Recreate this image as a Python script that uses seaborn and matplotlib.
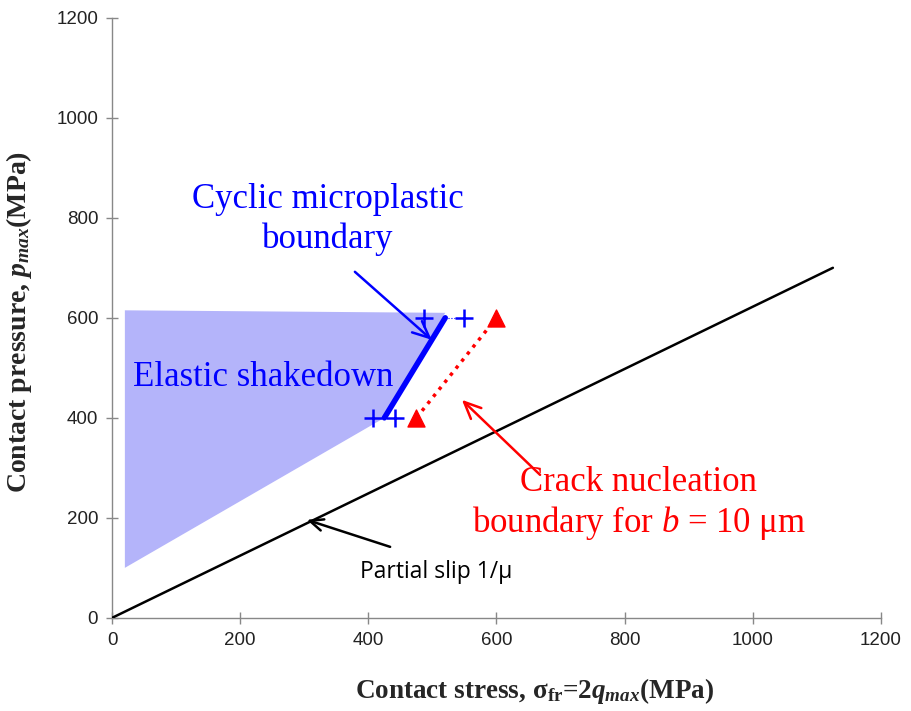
import matplotlib
matplotlib.use("Agg")
import matplotlib.pyplot as plt
import seaborn as sns

# data
slip_x = [0, 1125]
slip_y = [0, 700]

micro_x = [425, 520]
micro_y = [400, 600]
plus_x = [407, 442, 487, 549]
plus_y = [400, 400, 600, 600]

crack_x = [475, 600]
crack_y = [400, 600]

shade_x = [20, 520, 425, 20]
shade_y = [615, 610, 400, 100]

sns.set_theme(style="white")
plt.rcParams['font.family'] = ['Liberation Sans', 'DejaVu Sans']
plt.rcParams['mathtext.fontset'] = 'custom'
plt.rcParams['mathtext.rm'] = 'Liberation Serif:bold'
plt.rcParams['mathtext.it'] = 'Liberation Serif:italic:bold'
plt.rcParams['mathtext.bf'] = 'Liberation Serif:bold'
plt.rcParams['mathtext.sf'] = 'Liberation Serif:italic'

fig = plt.figure(figsize=(9.11, 7.11), dpi=100)
ax = fig.add_axes([0.123, 0.131, 0.844, 0.844])

ax.fill(shade_x, shade_y, color='#b4b4fa', lw=0, zorder=1)

sns.lineplot(x=slip_x, y=slip_y, color='black', lw=1.8, ax=ax, zorder=3)
sns.lineplot(x=micro_x, y=micro_y, color='#0000ff', lw=4, ax=ax, zorder=4)
sns.scatterplot(x=plus_x, y=plus_y, marker='+', s=170, color='#0000ff',
                linewidth=1.8, ax=ax, zorder=5)
sns.lineplot(x=crack_x, y=crack_y, color='#ff0000', lw=2.5, ls=(0, (1, 1.6)),
             ax=ax, zorder=4)
sns.scatterplot(x=crack_x, y=crack_y, marker='^', s=150, color='#ff0000',
                edgecolor='#ff0000', ax=ax, zorder=5)
ax.plot([520, 549], [600, 600], color='#0000ff', lw=0.8, ls=':', zorder=4)

ax.set_xlim(0, 1200)
ax.set_ylim(0, 1200)
ax.set_xticks(range(0, 1201, 200))
ax.set_yticks(range(0, 1201, 200))
ax.tick_params(axis='both', direction='inout', length=8, width=1, color='#888888',
               labelsize=13.5, labelcolor='#222222', bottom=True, left=True, pad=6)
for s in ['top', 'right']:
    ax.spines[s].set_visible(False)
for s in ['left', 'bottom']:
    ax.spines[s].set_color('#888888')
    ax.spines[s].set_linewidth(1)

ax.set_xlabel(r'Contact stress, σ$_{\mathrm{fr}}$=2$q_{max}$(MPa)',
              family='Liberation Serif', fontweight='bold', fontsize=19.5)
ax.set_ylabel(r'Contact pressure, $p_{max}$(MPa)',
              family='Liberation Serif', fontweight='bold', fontsize=20)
ax.xaxis.set_label_coords(0.55, -0.097)
ax.yaxis.set_label_coords(-0.101, 0.493)

serif = 'Liberation Serif'
arrow = '->,head_length=1.0,head_width=0.45'
ax.text(337, 796, 'Cyclic microplastic\nboundary', ha='center', va='center',
        color='#0000ff', fontsize=25, family=serif, linespacing=1.25, zorder=6)
ax.annotate('', xy=(499, 556), xytext=(379, 692),
            arrowprops=dict(arrowstyle=arrow, color='#0000ff', lw=1.8,
                            shrinkA=0, shrinkB=0))
ax.text(236, 480, 'Elastic shakedown', ha='center', va='center', color='#0000ff',
        fontsize=25, family=serif, zorder=6)

ax.text(822, 228, 'Crack nucleation\nboundary for $\\mathsf{b}$ = 10 μm', ha='center',
        va='center', color='#ff0000', fontsize=25, family=serif, linespacing=1.2,
        zorder=6)
ax.annotate('', xy=(546, 436), xytext=(668, 286),
            arrowprops=dict(arrowstyle=arrow, color='#ff0000', lw=1.8,
                            shrinkA=0, shrinkB=0))

ax.text(506, 92, 'Partial slip 1/μ', ha='center', va='center', color='black',
        fontsize=16.5, family='Open Sans')
ax.annotate('', xy=(304, 196), xytext=(434, 142),
            arrowprops=dict(arrowstyle='->,head_length=0.8,head_width=0.35',
                            color='black', lw=1.8, shrinkA=0, shrinkB=0))

fig.savefig('out.png', dpi=100)
